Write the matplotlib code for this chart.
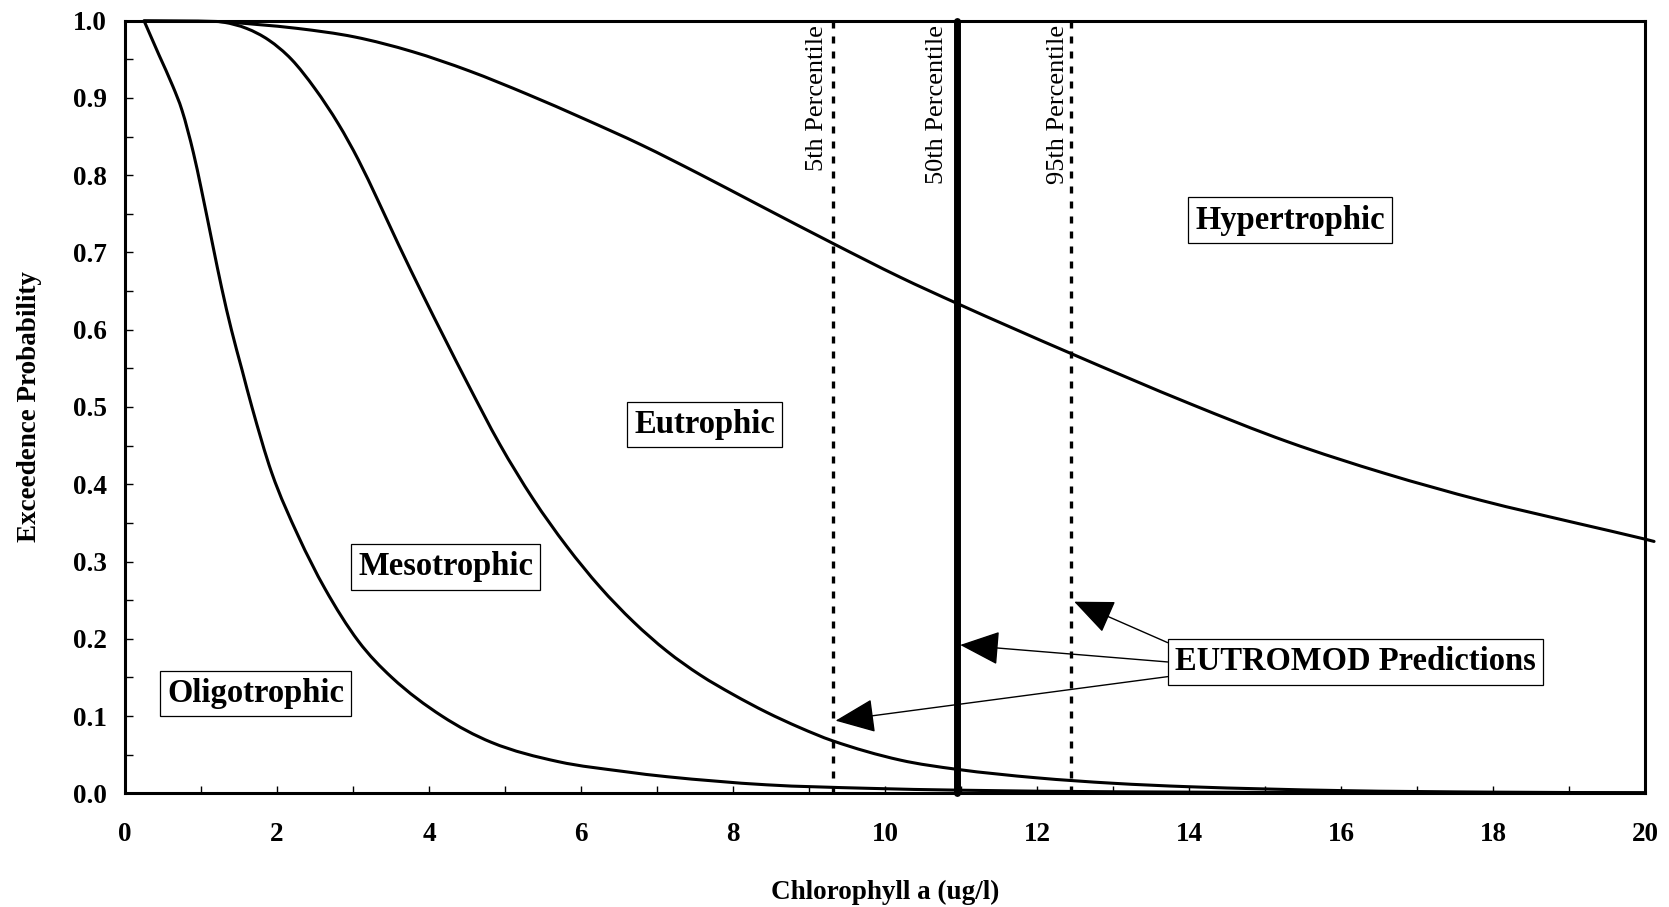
import matplotlib
matplotlib.use("Agg")
import numpy as np
import matplotlib.pyplot as plt
from matplotlib.path import Path
from matplotlib.patches import PathPatch
from matplotlib.ticker import MultipleLocator, FormatStrFormatter

plt.rcParams["font.family"] = ["Liberation Serif", "DejaVu Serif"]

# Exceedence probability curves (chlorophyll a in ug/l vs probability)
oligo_x = [0.25, 0.45, 0.63, 0.75, 0.90, 1.0, 1.16, 1.27, 1.40, 1.54, 1.67,
           1.93, 2.28, 2.63, 3.07, 3.51, 4.17, 4.82, 5.70, 6.58, 7.13, 8.44,
           9.76, 11.0, 13.0, 16.0, 20.0]
oligo_y = [1.0, 0.955, 0.915, 0.884, 0.829, 0.784, 0.707, 0.655, 0.600, 0.548,
           0.50, 0.415, 0.333, 0.265, 0.197, 0.150, 0.100, 0.066, 0.041, 0.028,
           0.0215, 0.011, 0.0065, 0.004, 0.002, 0.001, 0.0005]

meso_x = [0.25, 1.0, 1.3, 1.6, 1.89, 2.19, 2.50, 2.81, 3.07, 3.33, 3.60, 3.92,
          4.21, 4.50, 4.93, 5.37, 5.81, 6.25, 6.69, 7.13, 7.57, 8.00,
          8.44, 8.88, 9.31, 10.2, 10.95, 12.0, 13.0, 14.0, 16.0, 18.0, 20.0]
meso_y = [1.0, 1.0, 0.998, 0.990, 0.975, 0.950, 0.912, 0.866, 0.820, 0.767,
          0.710, 0.645, 0.588, 0.532, 0.452, 0.381, 0.320, 0.267, 0.222,
          0.184, 0.153, 0.128, 0.105, 0.085, 0.068, 0.043, 0.031, 0.020, 0.013,
          0.0085, 0.0035, 0.0015, 0.0007]

eutro_x = [0.25, 1.2, 1.75, 2.27, 3.02, 3.78, 4.53, 5.29, 6.04, 6.80, 7.55,
           8.31, 9.31, 10.2, 10.95, 12.43, 14.02, 15.30, 16.58, 17.85, 19.13,
           20.0, 20.12]
eutro_y = [1.0, 0.999, 0.995, 0.99, 0.979, 0.960, 0.935, 0.905, 0.873, 0.839,
           0.802, 0.763, 0.712, 0.668, 0.634, 0.570, 0.504, 0.455, 0.414, 0.379,
           0.349, 0.329, 0.326]

# Model prediction percentiles
pct_names = ["5th Percentile", "50th Percentile", "95th Percentile"]
pct_values = [9.31, 10.95, 12.45]
pct_arrow_y = [0.094, 0.192, 0.248]

# Trophic state labels and their positions (x, y in data units)
state_names = ["Oligotrophic", "Mesotrophic", "Eutrophic", "Hypertrophic"]
state_x = [1.72, 4.22, 7.63, 15.33]
state_y = [0.129, 0.293, 0.477, 0.742]

pred_label = "EUTROMOD Predictions"
pred_x, pred_y = 16.19, 0.170
pred_tail_x = 13.72
pred_tail_y = [0.151, 0.170, 0.195]


def smooth_path(xs, ys):
    """Smoothed line through the points (monotone cubic Bezier segments)."""
    x = np.asarray(xs, float)
    y = np.asarray(ys, float)
    h = np.diff(x)
    d = np.diff(y) / h
    m = np.empty_like(x)
    m[0], m[-1] = d[0], d[-1]
    m[1:-1] = (d[:-1] + d[1:]) / 2
    for k in range(1, len(x) - 1):
        if d[k - 1] * d[k] <= 0:
            m[k] = 0.0
    for k in range(len(d)):
        if d[k] == 0:
            m[k] = m[k + 1] = 0.0
            continue
        a, b = m[k] / d[k], m[k + 1] / d[k]
        s = a * a + b * b
        if s > 9:
            t = 3 / np.sqrt(s)
            m[k], m[k + 1] = t * a * d[k], t * b * d[k]
    verts = [(x[0], y[0])]
    codes = [Path.MOVETO]
    for k in range(len(h)):
        verts += [(x[k] + h[k] / 3, y[k] + m[k] * h[k] / 3),
                  (x[k + 1] - h[k] / 3, y[k + 1] - m[k + 1] * h[k] / 3),
                  (x[k + 1], y[k + 1])]
        codes += [Path.CURVE4] * 3
    return Path(verts, codes)


fig = plt.figure(figsize=(16.69, 9.07), dpi=100)
ax = fig.add_axes([0.0749, 0.12536, 0.91067, 0.85182])

lw_curve = 2.2
for cx, cy, clip in [(oligo_x, oligo_y, True), (meso_x, meso_y, True),
                     (eutro_x, eutro_y, False)]:
    patch = PathPatch(smooth_path(cx, cy), facecolor="none", edgecolor="black",
                      lw=lw_curve, transform=ax.transData, clip_on=clip,
                      capstyle="round", joinstyle="round", zorder=3)
    ax.add_patch(patch)

# Percentile lines
ax.plot([pct_values[0]] * 2, [0, 1], color="black", lw=2.4,
        linestyle=(0, (2.1, 2.4)))
ax.plot([pct_values[1]] * 2, [0, 1], color="black", lw=5.0,
        solid_capstyle="round", clip_on=False)
ax.plot([pct_values[2]] * 2, [0, 1], color="black", lw=2.4,
        linestyle=(0, (2.1, 2.4)))

label_offsets = [-3.0, -6.5, -1.5]
for name, xv, dx in zip(pct_names, pct_values, label_offsets):
    ax.annotate(name, xy=(xv, 1.0), xytext=(dx, -3), textcoords="offset points",
                rotation=90, ha="right", va="top", fontsize=19)

box = dict(boxstyle="square,pad=0.22", facecolor="white", edgecolor="black",
           lw=0.9)
for name, xv, yv in zip(state_names, state_x, state_y):
    ax.text(xv, yv, name, ha="center", va="center", fontsize=23.5,
            fontweight="bold", bbox=box, zorder=5)

# Arrows from the prediction label to each percentile line
for xv, yv, ty in zip(pct_values, pct_arrow_y, pred_tail_y):
    ax.annotate("", xy=(xv + 0.04, yv), xytext=(pred_tail_x, ty),
                arrowprops=dict(arrowstyle="-|>,head_length=1.4,head_width=0.6",
                                mutation_scale=18, lw=1.0, color="black",
                                shrinkA=0, shrinkB=0), zorder=4)
ax.text(pred_x, pred_y, pred_label, ha="center", va="center", fontsize=23.5,
        fontweight="bold", bbox=box, zorder=6)

ax.set_xlim(0, 20)
ax.set_ylim(0, 1.0)
ax.xaxis.set_major_locator(MultipleLocator(2))
ax.xaxis.set_minor_locator(MultipleLocator(1))
ax.yaxis.set_major_locator(MultipleLocator(0.1))
ax.yaxis.set_minor_locator(MultipleLocator(0.05))
ax.yaxis.set_major_formatter(FormatStrFormatter("%.1f"))

ax.tick_params(axis="both", which="both", direction="in", width=1.0,
               top=False, right=False)
ax.tick_params(axis="x", which="both", length=5, pad=21)
ax.tick_params(axis="y", which="both", length=6, pad=13)
for lab in ax.get_xticklabels() + ax.get_yticklabels():
    lab.set_fontsize(19.5)
    lab.set_fontweight("bold")

for side in ["left", "right", "top", "bottom"]:
    ax.spines[side].set_linewidth(2.2)

ax.set_xlabel("Chlorophyll a (ug/l)", fontsize=19.5, fontweight="bold",
              labelpad=23)
ax.set_ylabel("Exceedence Probability", fontsize=19.5, fontweight="bold",
              labelpad=22)

fig.savefig("out.png", dpi=100, facecolor="white")
